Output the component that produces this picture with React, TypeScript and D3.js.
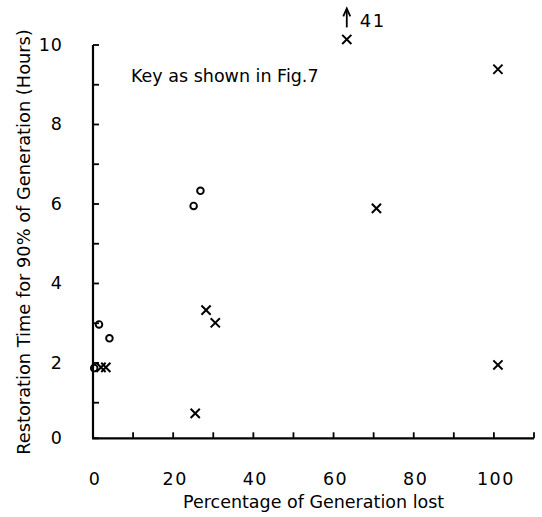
import React from "react";
import * as d3 from "d3";

const W = 542;
const H = 517;

// Open circles (series 1)
const circleX = [0.3, 1.5, 4.1, 25.1, 26.8];
const circleY = [1.87, 2.97, 2.62, 5.95, 6.33];

// Crosses (series 2)
const crossX = [2.0, 3.2, 25.5, 28.2, 30.5, 63.3, 70.7, 101, 101];
const crossY = [1.89, 1.89, 0.7, 3.33, 3.01, 10.14, 5.89, 9.39, 1.95];

const xTicks = [0, 10, 20, 30, 40, 50, 60, 70, 80, 90, 100, 110];
const xTickLabels = [0, 20, 40, 60, 80, 100];
const yTicks = [0, 1, 2, 3, 4, 5, 6, 7, 8, 9, 10];
const yTickLabels = [0, 2, 4, 6, 8, 10];

const offScaleLabel = "41";
const offScaleIndex = 5;

const xTitle = "Percentage of Generation lost";
const yTitle = "Restoration Time for 90% of Generation (Hours)";
const keyNote = "Key as shown in Fig.7";

export default function App() {
  const x = d3.scaleLinear().domain([0, 110]).range([93, 534]);
  const y = d3.scaleLinear().domain([0, 1, 10]).range([438.3, 402.7, 45]);
  const font = "'DejaVu Sans', sans-serif";
  const tickLen = 6;
  const cs = 4.6;

  const ox = x(crossX[offScaleIndex]);
  const oy = y(crossY[offScaleIndex]);

  return (
    <svg
      width={W}
      height={H}
      style={{ position: "absolute", left: 0, top: 0, background: "#fff" }}
      fontFamily={font}
    >
      <rect x={0} y={0} width={W} height={H} fill="#fff" />
      {/* axes */}
      <line x1={x(0)} x2={x(0)} y1={y(0)} y2={y(10)} stroke="#000" strokeWidth={2.2} />
      <line x1={x(0) - 1} x2={x(110)} y1={y(0)} y2={y(0)} stroke="#000" strokeWidth={2.2} />
      {yTicks.map((t) => (
        <line key={"yt" + t} x1={x(0)} x2={x(0) + tickLen} y1={y(t)} y2={y(t)} stroke="#000" strokeWidth={1.8} />
      ))}
      {xTicks.map((t) => (
        <line key={"xt" + t} x1={x(t)} x2={x(t)} y1={y(0)} y2={y(0) - tickLen} stroke="#000" strokeWidth={1.8} />
      ))}
      {yTickLabels.map((t) => (
        <text key={"yl" + t} x={63} y={y(t)} textAnchor="end" dominantBaseline="central" fontSize={17.5} letterSpacing={1} fill="#000">
          {t}
        </text>
      ))}
      {xTickLabels.map((t) => (
        <text key={"xl" + t} x={x(t) + 2} y={485} textAnchor="middle" fontSize={17.5} letterSpacing={1.5} fill="#000">
          {t}
        </text>
      ))}
      <text x={183} y={508} fontSize={17.5} fill="#000">{xTitle}</text>
      <text
        transform={`translate(30, 242) rotate(-90)`}
        textAnchor="middle"
        fontSize={17.8}
        fill="#000"
      >
        {yTitle}
      </text>
      <text x={131} y={82} fontSize={17.5} fill="#000">{keyNote}</text>

      {/* circles */}
      {circleX.map((v, i) => (
        <circle key={"c" + i} cx={x(v)} cy={y(circleY[i])} r={3.3} fill="none" stroke="#000" strokeWidth={1.9} />
      ))}
      {/* crosses */}
      {crossX.map((v, i) => {
        const cx = x(v);
        const cy = y(crossY[i]);
        return (
          <path
            key={"x" + i}
            d={`M${cx - cs},${cy - cs}L${cx + cs},${cy + cs}M${cx - cs},${cy + cs}L${cx + cs},${cy - cs}`}
            stroke="#000"
            strokeWidth={2}
            fill="none"
          />
        );
      })}
      {/* off-scale annotation */}
      <line x1={ox} x2={ox} y1={oy - 12} y2={oy - 29} stroke="#000" strokeWidth={1.8} />
      <path d={`M${ox - 3.5},${oy - 23}L${ox},${oy - 31}L${ox + 3.5},${oy - 23}`} fill="none" stroke="#000" strokeWidth={1.8} />
      <text x={ox + 13} y={oy - 12} fontSize={18} letterSpacing={1.5} fill="#000">{offScaleLabel}</text>
    </svg>
  );
}
